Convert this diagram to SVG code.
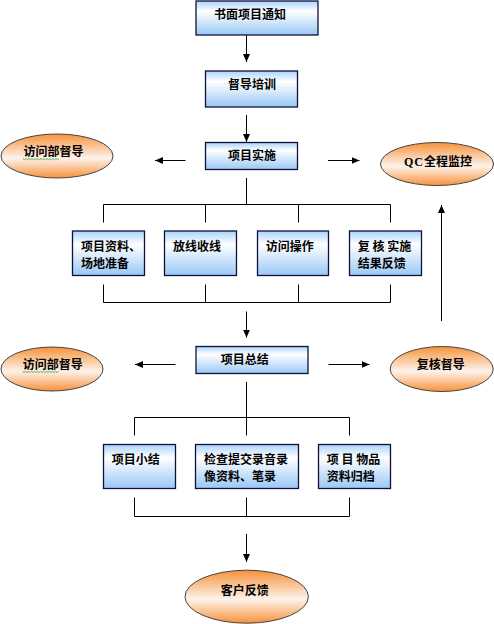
<svg xmlns="http://www.w3.org/2000/svg" width="494" height="624" viewBox="0 0 494 624">
<defs>
<linearGradient id="gBox" x1="0" y1="0" x2="0" y2="1">
<stop offset="0" stop-color="#a9d3fb"/>
<stop offset="0.3" stop-color="#ffffff"/>
<stop offset="1" stop-color="#99c8f5"/>
</linearGradient>
<linearGradient id="gEll" x1="0" y1="0" x2="0" y2="1">
<stop offset="0" stop-color="#f7923a"/>
<stop offset="0.55" stop-color="#fdf3ec"/>
<stop offset="1" stop-color="#f7923a"/>
</linearGradient>
<marker id="ah" markerUnits="userSpaceOnUse" markerWidth="8" markerHeight="7" refX="8" refY="3.5" orient="auto">
<path d="M0,0 L8,3.5 L0,7 z" fill="#000"/>
</marker>
<style>
.box{fill:url(#gBox);stroke:#10103a;stroke-width:1.3}
.ell{fill:url(#gEll);stroke:#444;stroke-width:1}
.t{font-family:"Noto Sans CJK SC","Noto Sans CJK JP",sans-serif;font-size:12px;font-weight:bold;fill:#000}
.c{fill:none;stroke:#000;stroke-width:1}
.a{fill:none;stroke:#000;stroke-width:1;marker-end:url(#ah)}
.sq{fill:none;stroke:#2a9a2a;stroke-width:0.8}
</style>
</defs>

<g id="connectors">
<path class="a" d="M246.5,35 V62"/>
<path class="a" d="M246.5,115 V142"/>
<path class="a" d="M185.5,160.5 H155"/>
<path class="a" d="M328,160.5 H359.5"/>
<path class="c" d="M246.5,178 V204.5 M103.5,222.5 V204.5 H390.5 V222.5 M205.5,204.5 V222.5 M298.5,204.5 V222.5"/>
<path class="c" d="M103.5,284.5 V302.5 H390.5 V284.5 M205.5,284.5 V302.5 M298.5,284.5 V302.5"/>
<path class="a" d="M246.5,311.5 V337.5"/>
<path class="a" d="M175.5,364.5 H135"/>
<path class="a" d="M328.5,364.5 H369.5"/>
<path class="a" d="M441.5,321 V205"/>
<path class="c" d="M246.5,382 V435.5 M134.5,435.5 V417.5 H349.5 V435.5"/>
<path class="c" d="M134.5,497.5 V516.5 H349.5 V497.5 M246.5,497.5 V516.5"/>
<path class="a" d="M246.5,534 V562"/>
</g>

<g id="n1"><rect class="box" x="196" y="1" width="122" height="34"/><text class="t" x="214" y="19">书面项目通知</text></g>
<g id="n2"><rect class="box" x="205.5" y="71" width="92" height="36"/><text class="t" x="228" y="89.3">督导培训</text></g>
<g id="n3"><rect class="box" x="205.5" y="142.5" width="92" height="27"/><text class="t" x="228" y="159.6">项目实施</text></g>
<g id="n4"><ellipse class="ell" cx="57" cy="156" rx="56" ry="22"/><text class="t" x="23.5" y="156.3">访问部督导</text><path class="sq" d="M23,158.5 l1.5,1.2 l1.5,-1.2 l1.5,1.2 l1.5,-1.2 l1.5,1.2 l1.5,-1.2 l1.5,1.2 l1.5,-1.2 l1.5,1.2 l1.5,-1.2 l1.5,1.2 l1.5,-1.2 l1.5,1.2 l1.5,-1.2 l1.5,1.2 l1.5,-1.2 l1.5,1.2 l1.5,-1.2 l1.5,1.2 l1.5,-1.2 l1.5,1.2 l1.5,-1.2 l1.5,1.2 l1.5,-1.2"/></g>
<g id="n5"><ellipse class="ell" cx="437" cy="164" rx="56.5" ry="21.5"/><text class="t" x="404" y="165.6"><tspan font-family="Liberation Serif, serif" letter-spacing="1">QC</tspan>全程监控</text></g>

<g id="n6"><rect class="box" x="72.5" y="231" width="72" height="44.5"/><text class="t" x="81" y="250.6">项目资料、</text><text class="t" x="81" y="268">场地准备</text></g>
<g id="n7"><rect class="box" x="164.5" y="231" width="72" height="44.5"/><text class="t" x="173" y="250.6">放线收线</text></g>
<g id="n8"><rect class="box" x="257.5" y="231" width="71" height="44.5"/><text class="t" x="265.7" y="250.6">访问操作</text></g>
<g id="n9"><rect class="box" x="349.5" y="231" width="72" height="44.5"/><text class="t" x="357.7" y="250.6">复 核 实施</text><text class="t" x="357.7" y="268">结果反馈</text></g>

<g id="n10"><rect class="box" x="196" y="346.5" width="112" height="27"/><text class="t" x="220.7" y="364">项目总结</text></g>
<g id="n11"><ellipse class="ell" cx="52" cy="369" rx="51" ry="22"/><text class="t" x="22.7" y="369">访问部督导</text><path class="sq" d="M22.5,371.3 l1.5,1.2 l1.5,-1.2 l1.5,1.2 l1.5,-1.2 l1.5,1.2 l1.5,-1.2 l1.5,1.2 l1.5,-1.2 l1.5,1.2 l1.5,-1.2 l1.5,1.2 l1.5,-1.2 l1.5,1.2 l1.5,-1.2 l1.5,1.2 l1.5,-1.2 l1.5,1.2 l1.5,-1.2 l1.5,1.2 l1.5,-1.2 l1.5,1.2 l1.5,-1.2 l1.5,1.2 l1.5,-1.2"/></g>
<g id="n12"><ellipse class="ell" cx="441.7" cy="369" rx="51.5" ry="22.5"/><text class="t" x="416.7" y="369">复核督导</text></g>

<g id="n13"><rect class="box" x="103.5" y="444.5" width="72" height="44"/><text class="t" x="111.7" y="463.6">项目小结</text></g>
<g id="n14"><rect class="box" x="195.5" y="444.5" width="103" height="44"/><text class="t" x="204" y="463.6">检查提交录音录</text><text class="t" x="204" y="480.6">像资料、笔录</text></g>
<g id="n15"><rect class="box" x="318.5" y="444.5" width="72" height="44"/><text class="t" x="326.7" y="463.6">项 目 物品</text><text class="t" x="326.7" y="480.6">资料归档</text></g>

<g id="n16"><ellipse class="ell" cx="246.7" cy="596.7" rx="61.7" ry="26.5"/><text class="t" x="220.7" y="594.6">客户反馈</text></g>
</svg>
